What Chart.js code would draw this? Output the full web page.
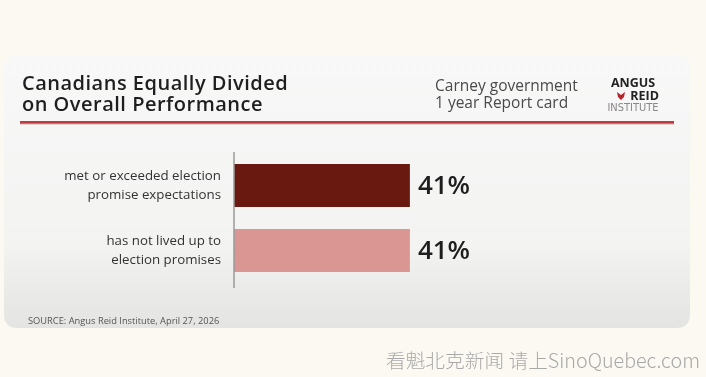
<!DOCTYPE html>
<html><head><meta charset="utf-8">
<script src="https://cdn.jsdelivr.net/npm/chart.js@4.4.1/dist/chart.umd.min.js"></script>
<style>
html,body{margin:0;padding:0;background:#fcf9f3;}
#wrap{position:relative;width:706px;height:377px;}
canvas{display:block;}
</style></head>
<body><div id="wrap"><canvas id="c" width="706" height="377"></canvas></div>
<script>
const categories = [
  ["met or exceeded election", "promise expectations"],
  ["has not lived up to", "election promises"]
];
const values = [41, 41];
const barColors = ["#6a1911", "#d99693"];
const titleLines = ["Canadians Equally Divided", "on Overall Performance"];
const subtitleLines = ["Carney government", "1 year Report card"];
const sourceText = "SOURCE: Angus Reid Institute, April 27, 2026";
const watermark = "看魁北克新闻 请上SinoQuebec.com";

function roundRect(ctx, x, y, w, h, r) {
  ctx.beginPath();
  ctx.moveTo(x + r, y);
  ctx.lineTo(x + w - r, y);
  ctx.quadraticCurveTo(x + w, y, x + w, y + r);
  ctx.lineTo(x + w, y + h - r);
  ctx.quadraticCurveTo(x + w, y + h, x + w - r, y + h);
  ctx.lineTo(x + r, y + h);
  ctx.quadraticCurveTo(x, y + h, x, y + h - r);
  ctx.lineTo(x, y + r);
  ctx.quadraticCurveTo(x, y, x + r, y);
  ctx.closePath();
}

const decor = {
  id: 'decor',
  beforeDraw(chart) {
    const ctx = chart.ctx;
    ctx.save();
    ctx.fillStyle = '#fcf9f3';
    ctx.fillRect(0, 0, chart.width, chart.height);
    // card
    const g = ctx.createLinearGradient(0, 55, 0, 328);
    g.addColorStop(0, '#f8f8f8');
    g.addColorStop(0.7, '#f3f3f2');
    g.addColorStop(0.85, '#ebebe9');
    g.addColorStop(1, '#e4e4e2');
    ctx.fillStyle = g;
    roundRect(ctx, 4, 55, 686, 273, 14);
    ctx.fill();
    // title
    ctx.fillStyle = '#1e1e1e';
    ctx.textBaseline = 'alphabetic';
    ctx.textAlign = 'left';
    ctx.letterSpacing = '0.5px';
    ctx.font = '600 20px "Open Sans", sans-serif';
    ctx.fillText(titleLines[0], 22, 90);
    ctx.fillText(titleLines[1], 22, 111);
    // subtitle
    ctx.letterSpacing = '0px';
    ctx.fillStyle = '#4a4a4a';
    ctx.font = '400 15.5px "Open Sans", sans-serif';
    ctx.fillText(subtitleLines[0], 435, 91);
    ctx.fillText(subtitleLines[1], 435, 108);
    // logo
    ctx.fillStyle = '#222';
    ctx.font = '700 12.5px "Open Sans", sans-serif';
    ctx.textAlign = 'center';
    ctx.fillText('ANGUS', 633, 87);
    ctx.textAlign = 'right';
    ctx.fillText('REID', 659, 100);
    ctx.fillStyle = '#b3262c';
    ctx.beginPath();
    ctx.moveTo(621, 95);
    ctx.lineTo(617, 92);
    ctx.lineTo(618, 97);
    ctx.lineTo(621, 100);
    ctx.lineTo(624, 97);
    ctx.lineTo(625, 92);
    ctx.closePath();
    ctx.fill();
    ctx.fillStyle = '#888';
    ctx.font = '400 11px "Liberation Sans Narrow", "DejaVu Sans Condensed", sans-serif';
    ctx.textAlign = 'center';
    ctx.fillText('INSTITUTE', 633, 111);
    // red rule
    ctx.fillStyle = '#c23a40';
    ctx.fillRect(20, 121, 654, 2.5);
    ctx.fillStyle = 'rgba(80,20,20,0.5)';
    ctx.fillRect(20, 123.5, 654, 0.8);
    // source
    ctx.fillStyle = '#555';
    ctx.textAlign = 'left';
    ctx.font = '400 9.3px "Open Sans", sans-serif';
    ctx.fillText(sourceText, 28, 324);
    // watermark
    ctx.fillStyle = '#a9a9a9';
    ctx.textAlign = 'right';
    ctx.font = '300 19.7px "Noto Sans CJK SC", sans-serif';
    ctx.fillText(watermark, 700, 368);
    ctx.restore();
  },
  afterDatasetsDraw(chart) {
    const ctx = chart.ctx;
    const meta = chart.getDatasetMeta(0);
    const a = chart.chartArea;
    ctx.save();
    // axis line
    ctx.strokeStyle = '#9a9a9a';
    ctx.lineWidth = 1.5;
    ctx.beginPath();
    ctx.moveTo(a.left, a.top - 1);
    ctx.lineTo(a.left, a.bottom + 5);
    ctx.stroke();
    // value labels
    ctx.fillStyle = '#1e1e1e';
    ctx.font = '600 26px "Open Sans", sans-serif';
    ctx.textAlign = 'left';
    ctx.textBaseline = 'middle';
    meta.data.forEach((bar, i) => {
      ctx.fillText(values[i] + '%', bar.x + 8, bar.y + 1);
    });
    ctx.restore();
  }
};

new Chart(document.getElementById('c'), {
  type: 'bar',
  data: {
    labels: categories,
    datasets: [{
      data: values,
      backgroundColor: barColors,
      borderWidth: 0,
      barPercentage: 0.66,
      categoryPercentage: 1.0
    }]
  },
  options: {
    indexAxis: 'y',
    responsive: false,
    animation: false,
    devicePixelRatio: 1,
    layout: { padding: { left: 0, right: 43, top: 153, bottom: 94 } },
    plugins: { legend: { display: false }, tooltip: { enabled: false } },
    scales: {
      x: {
        min: 0, max: 100,
        display: false,
        grid: { display: false }
      },
      y: {
        grid: { display: false, drawTicks: false },
        border: { display: false },
        afterFit(scale) { scale.width = 234; },
        ticks: {
          color: '#333',
          padding: 13,
          font: { family: '"Open Sans", sans-serif', size: 13.3, lineHeight: 1.4 }
        }
      }
    }
  },
  plugins: [decor]
});
</script>
</body></html>
